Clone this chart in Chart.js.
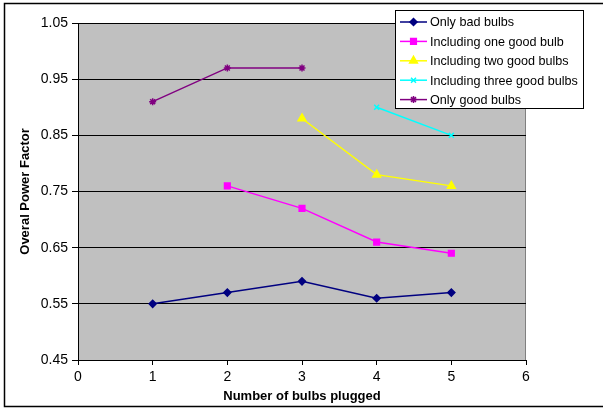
<!DOCTYPE html>
<html lang="en">
<head>
<meta charset="UTF-8">
<title>Overal Power Factor</title>
<script src="https://cdn.jsdelivr.net/npm/chart.js"></script>
<style>
  body { margin: 0; background: #fff; }
</style>
</head>
<body>
<canvas id="chart" width="603" height="409"></canvas>
<script>
// axis ticks
const xTicks = [0, 1, 2, 3, 4, 5, 6];
const yTicks = [0.45, 0.55, 0.65, 0.75, 0.85, 0.95, 1.05];

// series (x = number of bulbs plugged, y = power factor)
const badX = [1, 2, 3, 4, 5];
const badY = [0.55, 0.57, 0.59, 0.56, 0.57];
const oneGoodX = [2, 3, 4, 5];
const oneGoodY = [0.76, 0.72, 0.66, 0.64];
const twoGoodX = [3, 4, 5];
const twoGoodY = [0.88, 0.78, 0.76];
const threeGoodX = [4, 5];
const threeGoodY = [0.90, 0.85];
const goodX = [1, 2, 3];
const goodY = [0.91, 0.97, 0.97];

const FONT = "'Liberation Sans', Arial, sans-serif";

function pts(xs, ys) {
    return xs.map((x, i) => ({ x: x, y: ys[i] }));
}

function series(label, xs, ys, color, style, r) {
    return {
        label: label,
        data: pts(xs, ys),
        showLine: true,
        borderColor: color,
        backgroundColor: color,
        borderWidth: 1.5,
        pointStyle: style,
        pointRadius: r,
        pointHoverRadius: r,
        pointBorderWidth: 1.5
    };
}

// grey plot area + outer frame
const frame = {
    id: 'frame',
    beforeDraw(chart) {
        const c = chart.ctx, a = chart.chartArea;
        c.save();
        c.fillStyle = '#C0C0C0';
        c.fillRect(a.left, a.top, a.right - a.left, a.bottom - a.top);
        c.strokeStyle = '#808080';
        c.lineWidth = 1;
        c.beginPath();
        c.moveTo(a.left, a.top + 0.5);
        c.lineTo(a.right - 0.5, a.top + 0.5);
        c.lineTo(a.right - 0.5, a.bottom);
        c.stroke();
        c.restore();
    },
    afterDraw(chart) {
        const c = chart.ctx;
        c.save();
        c.strokeStyle = '#000';
        c.lineWidth = 1.5;
        c.beginPath();
        c.moveTo(610, 3.5);
        c.lineTo(4.5, 3.5);
        c.lineTo(4.5, 406.5);
        c.lineTo(610, 406.5);
        c.stroke();
        c.restore();
    }
};

// Excel style legend box over the plot
const boxLegend = {
    id: 'boxLegend',
    afterDraw(chart) {
        const c = chart.ctx;
        const bx = 395, by = 10, bw = 188, bh = 98;
        c.save();
        c.fillStyle = '#fff';
        c.fillRect(bx, by, bw, bh);
        c.strokeStyle = '#000';
        c.lineWidth = 1;
        c.strokeRect(bx + 0.5, by + 0.5, bw, bh);
        c.font = '12.6px ' + FONT;
        c.textBaseline = 'middle';
        chart.data.datasets.forEach((ds, i) => {
            const y = by + 12 + i * 19.4;
            c.strokeStyle = ds.borderColor;
            c.lineWidth = 1.5;
            c.beginPath();
            c.moveTo(400, y);
            c.lineTo(427, y);
            c.stroke();
            c.fillStyle = ds.backgroundColor;
            Chart.helpers.drawPoint(c, {
                pointStyle: ds.pointStyle, radius: ds.pointRadius,
                rotation: 0, borderWidth: 1.5
            }, 413.5, y);
            c.fillStyle = '#000';
            c.fillText(ds.label, 430, y + 1);
        });
        c.restore();
    }
};

new Chart(document.getElementById('chart'), {
    type: 'scatter',
    data: {
        datasets: [
            series('Only bad bulbs', badX, badY, '#000080', 'rectRot', 3.5),
            series('Including one good bulb', oneGoodX, oneGoodY, '#FF00FF', 'rect', 4),
            series('Including two good bulbs', twoGoodX, twoGoodY, '#FFFF00', 'triangle', 4.5),
            series('Including three good bulbs', threeGoodX, threeGoodY, '#00FFFF', 'crossRot', 3.5),
            series('Only good bulbs', goodX, goodY, '#800080', 'star', 3.5)
        ]
    },
    options: {
        responsive: false,
        animation: false,
        layout: { padding: { left: 4, top: 23, right: 77, bottom: 3 } },
        plugins: { legend: { display: false }, tooltip: { enabled: false } },
        scales: {
            x: {
                type: 'linear',
                min: 0, max: 6,
                afterBuildTicks: s => { s.ticks = xTicks.map(v => ({ value: v })); },
                afterFit: s => { s.height = 46; },
                grid: { drawOnChartArea: false, color: '#000', tickLength: 5 },
                border: { color: '#000', width: 1 },
                ticks: { color: '#000', font: { family: FONT, size: 14 }, padding: 4, maxRotation: 0 },
                title: {
                    display: true, text: 'Number of bulbs plugged', color: '#000',
                    font: { family: FONT, size: 13, weight: 'bold' }, padding: { top: 0, bottom: 2 }
                }
            },
            y: {
                type: 'linear',
                min: 0.45, max: 1.05,
                afterBuildTicks: s => { s.ticks = yTicks.map(v => ({ value: v })); },
                afterFit: s => { s.width = 74; },
                grid: {
                    color: ctx => (ctx.tick && ctx.tick.value === 1.05 && ctx.type !== 'tick') ? '#808080' : '#000',
                    tickColor: '#000',
                    tickLength: 6,
                    lineWidth: 1
                },
                border: { color: '#000', width: 1 },
                ticks: {
                    color: '#000', font: { family: FONT, size: 14 }, padding: 4,
                    callback: v => v.toFixed(2)
                },
                title: {
                    display: true, text: 'Overal Power Factor', color: '#000',
                    font: { family: FONT, size: 13, weight: 'bold' }, padding: { top: 14, bottom: 0 }
                }
            }
        }
    },
    plugins: [frame, boxLegend]
});
</script>
</body>
</html>
